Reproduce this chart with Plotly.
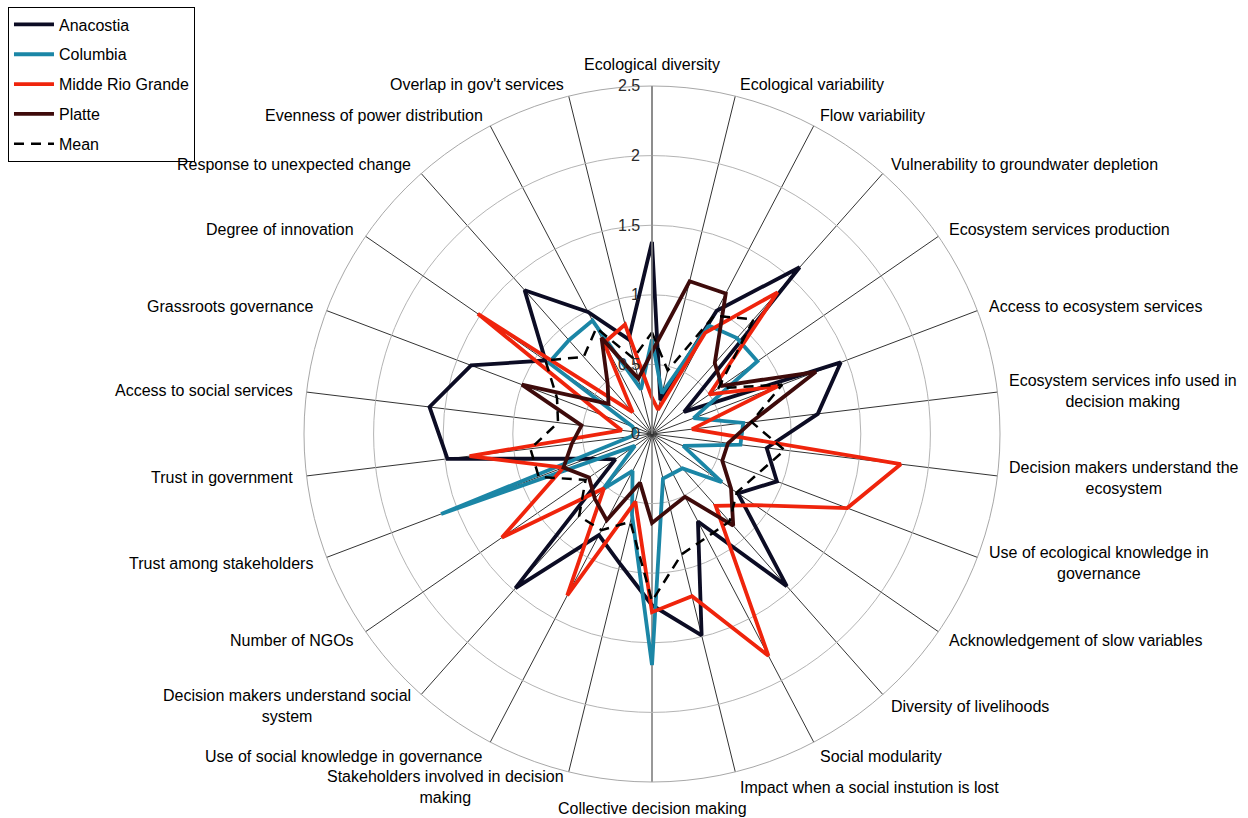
import math
import plotly.graph_objects as go

# Resilience indicators, clockwise from the top
categories = [
    "Ecological diversity",
    "Ecological variability",
    "Flow variability",
    "Vulnerability to groundwater depletion",
    "Ecosystem services production",
    "Access to ecosystem services",
    "Ecosystem services info used in<br>decision making",
    "Decision makers understand the<br>ecosystem",
    "Use of ecological knowledge in<br>governance",
    "Acknowledgement of slow variables",
    "Diversity of livelihoods",
    "Social modularity",
    "Impact when a social instution is lost",
    "Collective decision making",
    "Stakeholders involved in decision<br>making",
    "Use of social knowledge in governance",
    "Decision makers understand social<br>system",
    "Number of NGOs",
    "Trust among stakeholders",
    "Trust in government",
    "Access to social services",
    "Grassroots governance",
    "Degree of innovation",
    "Response to unexpected change",
    "Evenness of power distribution",
    "Overlap in gov't services",
]

anacostia = [1.38, 0.25, 1.00, 1.60, 0.28, 1.45, 1.20, 0.83, 0.96, 0.75, 1.46, 0.71, 1.49,
             1.23, 0.96, 0.82, 1.48, 0.32, 0.50, 1.48, 1.61, 1.39, 0.93, 1.38, 0.99, 0.70]
columbia = [0.68, 0.30, 0.88, 0.92, 0.92, 0.32, 0.66, 0.64, 0.24, 0.61, 0.33, 0.32, 0.33,
            1.66, 0.60, 0.30, 0.53, 0.15, 1.62, 0.15, 0.12, 0.15, 0.90, 0.90, 0.92, 0.33]
rio_grande = [0.26, 0.18, 0.82, 1.36, 0.50, 0.97, 0.29, 1.80, 1.50, 0.90, 0.69, 1.80, 1.20,
              1.28, 0.50, 1.31, 0.52, 1.31, 0.68, 1.32, 0.22, 0.38, 1.52, 0.21, 0.74, 0.81]
platte = [0.59, 1.13, 1.14, 0.68, 0.61, 1.26, 0.72, 0.55, 0.54, 0.69, 0.88, 0.51, 0.55,
          0.64, 0.36, 0.70, 0.62, 0.55, 0.68, 0.58, 0.51, 1.00, 0.38, 0.48, 0.78, 0.41]
mean = [0.73, 0.47, 0.96, 1.10, 0.58, 1.00, 0.72, 0.96, 0.81, 0.74, 0.84, 0.84, 0.89,
        1.20, 0.65, 0.78, 0.79, 0.58, 0.87, 0.88, 0.68, 0.73, 0.93, 0.74, 0.86, 0.56]

radial_ticks = [0, 0.5, 1, 1.5, 2, 2.5]
r_max = 2.5

series = [
    ("Anacostia", anacostia, "#0c0c24", "solid", 3.8),
    ("Columbia", columbia, "#1b86a6", "solid", 3.8),
    ("Midde Rio Grande", rio_grande, "#ef240c", "solid", 3.8),
    ("Platte", platte, "#3e0b0b", "solid", 3.8),
    ("Mean", mean, "#000000", "10px,7px", 2.5),
]

W, H = 1248, 818
# polar disc geometry in pixels (centre and outer radius)
CX, CY, R = 652, 434, 348
font_family = "Arial, Liberation Sans, sans-serif"

fig = go.Figure()
for name, vals, color, dash, width in series:
    fig.add_trace(go.Scatterpolar(
        r=vals + vals[:1],
        theta=categories + categories[:1],
        mode="lines",
        name=name,
        legendgroup=name,
        line=dict(color=color, width=width, dash=dash),
    ))


def to_paper(px, py):
    return px / W, 1 - py / H


annotations = []

# category labels around the outer ring
n = len(categories)
for k, label in enumerate(categories):
    th = math.radians(k * 360 / n)
    s, c = math.sin(th), math.cos(th)
    px, py = CX + R * s, CY - R * c
    if abs(s) < 0.05:
        xa = "center"
        ty = py - 22 if c > 0 else py + 26
        tx = px
    else:
        xa = "left" if s > 0 else "right"
        tx = px + s * (10 if s > 0 else 12)
        ty = py - 12 * c if c > 0 else py - 16 * c
    x, y = to_paper(tx, ty)
    annotations.append(dict(
        x=x, y=y, xref="paper", yref="paper", text=label, showarrow=False,
        xanchor=xa, yanchor="middle", align="center",
        font=dict(family=font_family, size=16, color="#000000"),
    ))

# radial scale labels, left of the vertical axis
for v in radial_ticks:
    x, y = to_paper(CX - 10, CY - v / r_max * R)
    annotations.append(dict(
        x=x, y=y, xref="paper", yref="paper", text=f"{v:g}", showarrow=False,
        xanchor="right", yanchor="middle",
        font=dict(family=font_family, size=16, color="#2a2a2a"),
    ))

fig.update_layout(
    width=W,
    height=H,
    margin=dict(l=0, r=0, t=0, b=0),
    paper_bgcolor="white",
    plot_bgcolor="white",
    font=dict(family=font_family, size=16, color="#000000"),
    polar=dict(
        domain=dict(x=[(CX - R) / W, (CX + R) / W], y=[1 - (CY + R) / H, 1 - (CY - R) / H]),
        bgcolor="white",
        angularaxis=dict(
            type="category",
            categoryarray=categories,
            direction="clockwise",
            rotation=90,
            gridcolor="#333333",
            gridwidth=1,
            showline=True,
            linecolor="#a8a8a8",
            linewidth=1,
            showticklabels=False,
            ticks="",
        ),
        radialaxis=dict(
            range=[0, r_max],
            tickvals=radial_ticks,
            angle=90,
            showline=True,
            linecolor="#8a8a8a",
            linewidth=1.5,
            gridcolor="#b4b4b4",
            gridwidth=1,
            ticks="",
            showticklabels=False,
        ),
    ),
    annotations=annotations,
    showlegend=True,
    legend=dict(
        x=0.0064,
        y=0.992,
        xanchor="left",
        yanchor="top",
        bgcolor="white",
        bordercolor="#000000",
        borderwidth=1,
        tracegroupgap=6,
        itemwidth=40,
        font=dict(family=font_family, size=16, color="#000000"),
    ),
)

fig.write_html("out.html")
